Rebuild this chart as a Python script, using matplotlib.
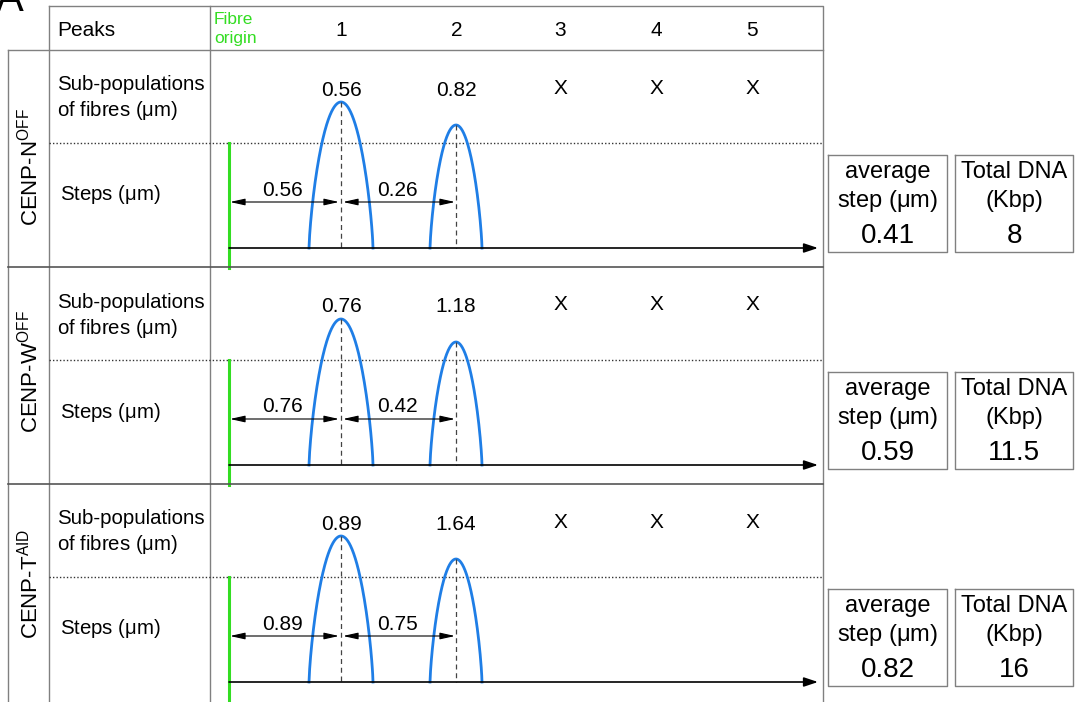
import numpy as np
import matplotlib
matplotlib.use("Agg")
import matplotlib.pyplot as plt

plt.rcParams['font.family'] = ['Liberation Sans', 'DejaVu Sans']

# data
groups = ["CENP-N", "CENP-W", "CENP-T"]
group_sup = ["OFF", "OFF", "AID"]
peak_labels = ["1", "2", "3", "4", "5"]
subpop = [["0.56", "0.82"], ["0.76", "1.18"], ["0.89", "1.64"]]
steps = [["0.56", "0.26"], ["0.76", "0.42"], ["0.89", "0.75"]]
avg_step = ["0.41", "0.59", "0.82"]
total_dna = ["8", "11.5", "16"]

fig = plt.figure(figsize=(10.75, 7.02), dpi=100)
ax = fig.add_axes([0, 0, 1, 1])
ax.set_xlim(0, 1075)
ax.set_ylim(702, 0)
ax.axis('off')

grey = '#808080'
blue = '#1f7ee6'
green = '#33dd22'

# panel letter (cut off at top, as in the original figure)
ax.text(-4, -20, "A", fontsize=30, va='top', ha='left')

# header row
ax.plot([49, 823, 823], [6, 6, 702], color=grey, lw=1)
ax.plot([49, 49], [6, 702], color=grey, lw=1)
ax.plot([210, 210], [6, 702], color=grey, lw=1)
ax.text(57, 30, "Peaks", fontsize=15, va='center')
ax.text(214, 19, "Fibre", fontsize=12.5, va='center', color=green)
ax.text(214, 39, "origin", fontsize=12.5, va='center', color=green)
peak_x = [341, 457, 560, 656, 752]
for px, lab in zip(peak_x, peak_labels):
    ax.text(px, 30, lab, fontsize=15, ha='center', va='center')

ax.plot([8, 8], [50, 702], color=grey, lw=1)
ax.plot([8, 823], [50, 50], color=grey, lw=1)

u = np.linspace(-1, 1, 200)
shape = (1 - u ** 2) ** 0.75
label_mid = [117, 105, 100]
for g in range(3):
    off = g * 217
    top = 50 + off
    if g > 0:
        ax.plot([8, 823], [top, top], color='#555555', lw=1.2)
    dot = 143 + off
    ax.plot([49, 823], [dot, dot], color='#333333', lw=1, ls=(0, (1, 1.5)))
    # group label
    ax.text(30, top + label_mid[g], "%s$^{\\mathregular{%s}}$" % (groups[g], group_sup[g]),
            rotation=90, fontsize=16, ha='center', va='center')
    ax.text(57, top + 35, "Sub-populations", fontsize=14.7, va='center')
    ax.text(57, top + 61, "of fibres ($\\mathregular{\\mu}$m)", fontsize=14.7, va='center')
    ax.text(60, top + 145, "Steps ($\\mathregular{\\mu}$m)", fontsize=14.7, va='center')

    base = 248 + off
    # fibre origin line
    ax.plot([229, 229], [dot, top + 218], color=green, lw=2.2)
    # axis arrow
    ax.annotate("", xy=(818, base), xytext=(229, base),
                arrowprops=dict(arrowstyle='-|>,head_length=0.6,head_width=0.2',
                                color='black', lw=1.2,
                                mutation_scale=14, shrinkA=0, shrinkB=0))
    # peaks
    for k, (cx, hw, h) in enumerate([(341, 32, 146), (456, 26, 123)]):
        ax.plot(cx + hw * u, base - h * shape, color=blue, lw=2)
        ax.plot([cx, cx], [base - h, base], color='#444444', lw=0.9, ls=(0, (4, 3)))
        ax.text(cx, top + 40, subpop[g][k], fontsize=15, ha='center', va='center')
    for px in peak_x[2:]:
        ax.text(px, top + 38, "X", fontsize=15, ha='center', va='center')
    # step arrows
    ay = base - 46
    for (x0, x1), lab in zip([(230, 339), (343, 455)], steps[g]):
        ax.annotate("", xy=(x0, ay), xytext=(x1, ay),
                    arrowprops=dict(arrowstyle='<|-|>,head_length=0.9,head_width=0.2',
                                    color='black', lw=0.8,
                                    mutation_scale=10, shrinkA=0, shrinkB=0))
        ax.text((x0 + x1) / 2 - 2, ay - 12, lab, fontsize=15, ha='center', va='center')

    # right boxes
    by0, by1 = 155 + off, 252 + off
    for bx0, bx1, l1, l2, val in [(828, 947, "average", "step ($\\mathregular{\\mu}$m)", avg_step[g]),
                                  (955, 1073, "Total DNA", "(Kbp)", total_dna[g])]:
        ax.plot([bx0, bx1, bx1, bx0, bx0], [by0, by0, by1, by1, by0], color=grey, lw=1)
        cx = (bx0 + bx1) / 2
        ax.text(cx, by0 + 17, l1, fontsize=17, ha='center', va='center')
        ax.text(cx, by0 + 46, l2, fontsize=17, ha='center', va='center')
        ax.text(cx, by0 + 81, val, fontsize=20, ha='center', va='center')

fig.savefig("out.png", dpi=100)
